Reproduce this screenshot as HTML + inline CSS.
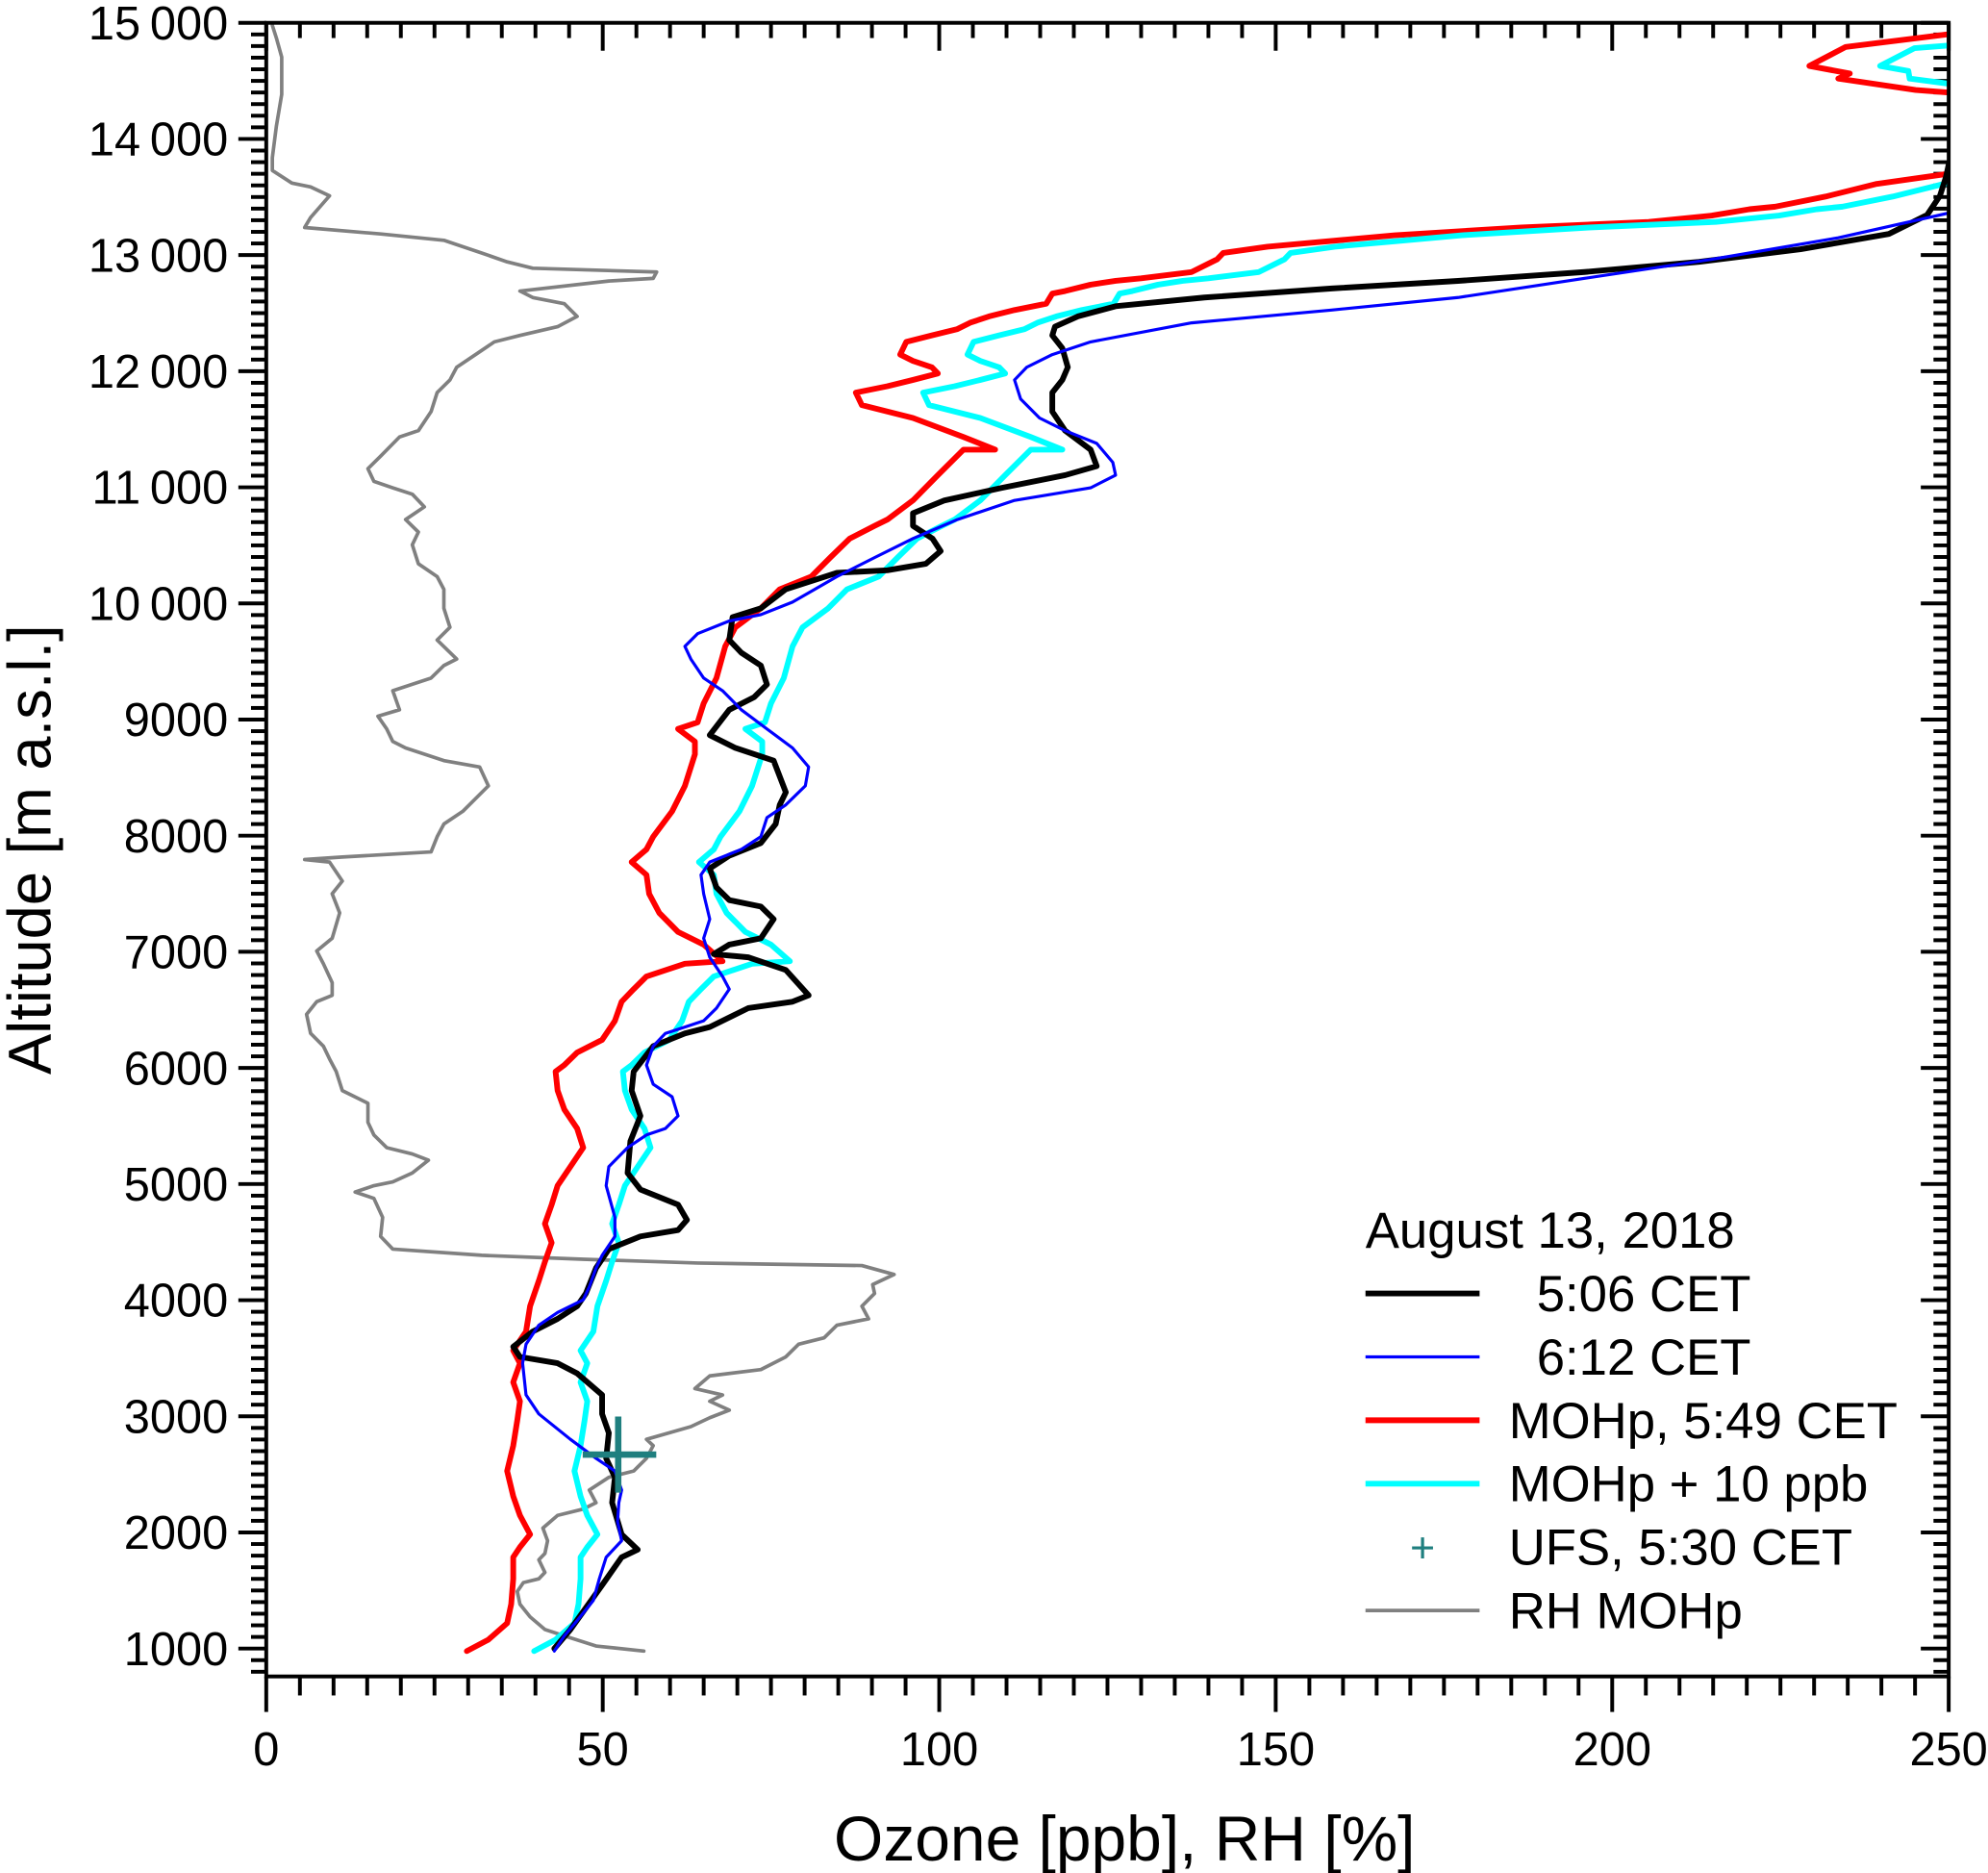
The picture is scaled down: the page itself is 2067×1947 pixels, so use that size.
<!DOCTYPE html>
<html><head><meta charset="utf-8"><style>
html,body{margin:0;padding:0;background:#fff}
svg{display:block}
text{font-family:"Liberation Sans",Arial,sans-serif;fill:#000}
</style></head><body>
<svg id="chart" width="2067" height="1947" viewBox="0 0 1568 1477" preserveAspectRatio="none" xmlns="http://www.w3.org/2000/svg">
<defs><clipPath id="plotClip"><rect x="210" y="18" width="1327" height="1304"/></clipPath></defs>
<g id="axes"></g>
<g id="series" clip-path="url(#plotClip)"></g>
<rect x="210" y="18" width="1327" height="1304" fill="none" stroke="#000" stroke-width="3"/>
<text transform="translate(40,670) rotate(-90)" text-anchor="middle" font-size="48">Altitude [m a.s.l.]</text>
<text x="887" y="1467" text-anchor="middle" font-size="50">Ozone [ppb], RH [%]</text>
<g>
<text x="1077" y="984" font-size="40">August 13, 2018</text>
<line x1="1077" y1="1020" x2="1167" y2="1020" stroke="#000" stroke-width="4.5"/>
<text x="1212" y="1034" font-size="40">5:06 CET</text>
<line x1="1077" y1="1070" x2="1167" y2="1070" stroke="#0000ff" stroke-width="2.4"/>
<text x="1212" y="1084" font-size="40">6:12 CET</text>
<line x1="1077" y1="1120" x2="1167" y2="1120" stroke="#ff0000" stroke-width="4.5"/>
<text x="1190" y="1134" font-size="40">MOHp, 5:49 CET</text>
<line x1="1077" y1="1170" x2="1167" y2="1170" stroke="#00ffff" stroke-width="4.5"/>
<text x="1190" y="1184" font-size="40">MOHp + 10 ppb</text>
<text x="1122" y="1232" font-size="34" text-anchor="middle" style="fill:#1f7f7f">+</text>
<text x="1190" y="1234" font-size="40">UFS, 5:30 CET</text>
<line x1="1077" y1="1270" x2="1167" y2="1270" stroke="#808080" stroke-width="2.8"/>
<text x="1190" y="1284" font-size="40">RH MOHp</text>
</g>
</svg>
<script>
const xTicks=[0,50,100,150,200,250];
const yTicks=[1000,2000,3000,4000,5000,6000,7000,8000,9000,10000,11000,12000,13000,14000,15000];
const yTickLabels=["1000","2000","3000","4000","5000","6000","7000","8000","9000","10\u2009000","11\u2009000","12\u2009000","13\u2009000","14\u2009000","15\u2009000"];
const blackOz=[42.8,45.2,49.9,52.8,55.2,52.8,51.4,51.8,50.5,50.9,49.9,49.9,46.2,43.3,37.7,36.7,39.6,43.3,46.2,47.5,49.0,50.9,55.6,61.2,62.5,61.2,55.6,53.7,54.1,55.6,54.3,54.6,57.5,62.2,65.9,71.6,78.2,80.6,77.2,71.6,66.5,68.8,73.5,75.4,73.5,68.8,66.9,65.9,68.8,73.5,75.7,76.3,77.2,75.4,69.7,65.9,68.8,72.5,74.4,73.5,70.6,68.8,69.3,73.5,77.2,84.8,92.3,98.0,100.2,99.0,96.1,96.1,100.8,109.3,118.7,123.4,122.5,118.7,116.8,116.8,118.3,119.1,118.3,116.8,117.2,120.6,126.2,139.4,158.3,177.1,195.9,212.9,228.0,241.1,246.8,248.7,249.6,250];
const blackAlt=[1000,1164,1546,1786,1852,1983,2256,2474,2638,2857,3020,3184,3370,3457,3512,3599,3730,3839,3949,4058,4276,4440,4549,4604,4691,4822,4953,5095,5368,5587,5805,5969,6187,6297,6352,6515,6570,6625,6843,6953,6980,7062,7117,7281,7390,7445,7554,7718,7828,7937,8101,8265,8374,8647,8756,8866,9084,9193,9302,9466,9576,9685,9882,9958,10122,10264,10286,10341,10450,10559,10668,10777,10887,10996,11105,11182,11324,11488,11652,11816,11925,12034,12198,12308,12384,12472,12559,12635,12712,12778,12854,12942,13051,13182,13346,13510,13674,13780];
const blueOz=[42.8,44.3,46.2,48.6,49.5,50.5,52.8,52.2,52.4,52.8,51.8,49.0,45.2,40.5,38.6,38.1,38.6,40.5,43.3,47.1,48.0,49.0,49.9,51.8,51.8,50.5,50.9,53.7,56.5,59.3,61.2,60.3,57.5,56.5,57.5,59.3,62.2,65.0,66.9,68.8,67.8,65.9,65.0,65.9,65.0,64.6,65.9,70.6,73.5,74.4,77.2,80.1,80.6,78.2,74.4,70.6,67.8,65.0,63.1,62.2,64.1,68.8,73.5,78.2,84.8,90.4,96.1,102.7,111.2,122.5,126.2,125.8,123.4,118.7,114.9,112.1,111.2,113.0,116.8,122.5,137.5,158.3,177.1,195.9,214.8,233.6,250.0];
const blueAlt=[978,1109,1240,1415,1601,1786,1928,2092,2256,2365,2529,2638,2802,3020,3184,3457,3621,3785,3894,4003,4113,4276,4385,4549,4713,4986,5150,5314,5423,5478,5587,5751,5860,6024,6187,6297,6352,6406,6515,6679,6788,6953,7117,7281,7500,7663,7773,7882,7991,8155,8265,8429,8592,8756,8920,9084,9248,9357,9521,9630,9740,9849,9903,10012,10231,10395,10559,10723,10887,10996,11105,11215,11379,11488,11597,11761,11925,12034,12143,12252,12416,12526,12635,12799,12963,13149,13362];
const redOz=[29.8,33.0,35.8,36.4,36.7,36.7,37.7,39.2,37.7,36.7,35.8,36.7,37.3,37.7,36.7,37.7,36.7,38.6,39.2,40.5,41.4,42.4,41.4,42.4,43.3,45.2,47.1,46.2,44.3,43.3,43.0,44.3,46.2,49.9,51.8,52.8,54.6,56.5,62.2,67.8,65.0,61.2,58.4,56.9,56.5,54.3,56.5,57.5,60.3,62.2,63.7,63.7,61.2,64.1,65.0,66.9,68.2,69.7,73.5,76.3,81.0,83.8,86.7,90.4,92.3,96.1,99.8,103.6,108.3,103.6,96.1,88.5,87.6,92.3,96.1,99.8,98.9,96.1,94.2,95.1,98.9,102.7,104.6,107.4,111.2,115.9,116.8,118.7,122.5,126.2,130.0,137.5,141.3,142.2,148.8,167.7,186.5,205.4,214.8,220.4,224.2,231.7,239.3,250];
const redAlt=[978,1076,1218,1382,1601,1786,1874,1983,2147,2311,2529,2747,2966,3130,3293,3457,3566,3730,3949,4167,4331,4495,4658,4822,4986,5150,5314,5478,5642,5805,5969,6024,6133,6242,6406,6570,6679,6788,6897,6919,7062,7171,7335,7500,7663,7773,7882,7991,8210,8429,8701,8810,8920,8975,9139,9357,9630,9794,9958,10122,10231,10395,10559,10668,10723,10887,11105,11324,11324,11433,11597,11707,11816,11870,11925,11980,12034,12089,12143,12252,12308,12363,12417,12472,12526,12581,12668,12690,12745,12778,12799,12854,12963,13018,13073,13171,13237,13285,13340,13395,13417,13504,13613,13700];
const redTopOz=[250,234.7,229.3,235.3,233.6,245.1,250];
const redTopAlt=[14902,14793,14629,14563,14519,14421,14399];
const cyanOz=[39.8,43.0,45.8,46.4,46.7,46.7,47.7,49.2,47.7,46.7,45.8,46.7,47.3,47.7,46.7,47.7,46.7,48.6,49.2,50.5,51.4,52.4,51.4,52.4,53.3,55.2,57.1,56.2,54.3,53.3,53.0,54.3,56.2,59.9,61.8,62.8,64.6,66.5,72.2,77.8,75.0,71.2,68.4,66.9,66.5,64.3,66.5,67.5,70.3,72.2,73.7,73.7,71.2,74.1,75.0,76.9,78.2,79.7,83.5,86.3,91.0,93.8,96.7,100.4,102.3,106.1,109.8,113.6,118.3,113.6,106.1,98.5,97.6,102.3,106.1,109.8,108.9,106.1,104.2,105.1,108.9,112.7,114.6,117.4,121.2,125.9,126.8,128.7,132.5,136.2,140.0,147.5,151.3,152.2,158.8,177.7,196.5,215.4,224.8,230.4,234.2,241.7,249.3,260];
const cyanAlt=redAlt.slice();
const cyanTopOz=[250,244.9,239.8,244.0,244.2,250];
const cyanTopAlt=[14804,14782,14629,14585,14519,14476];
const rhVal=[56.1,49.0,44.3,41.4,39.2,37.7,37.3,38.2,40.5,41.4,40.5,41.4,41.8,41.1,43.3,47.1,49.0,48.0,50.9,54.6,56.5,57.5,56.5,63.1,65.9,68.8,65.9,67.8,63.7,65.9,73.5,77.2,79.1,82.9,84.8,89.5,88.5,90.4,90.1,93.3,88.5,64.1,47.1,32.0,18.8,17.0,17.3,16.0,13.2,16.0,18.8,21.7,24.1,21.7,17.9,16.0,15.1,15.1,11.3,10.4,9.4,8.5,6.6,6.0,7.5,9.8,9.8,8.5,7.5,9.8,10.9,9.8,11.3,9.4,5.7,11.3,24.5,25.4,26.4,29.2,33.0,31.7,26.4,20.7,18.8,17.9,16.6,19.8,18.8,24.5,26.4,28.3,25.4,27.3,26.4,26.4,25.4,22.6,21.7,22.6,20.7,23.5,21.7,18.8,16.0,15.1,17.0,19.8,22.6,24.5,25.4,27.3,28.3,31.1,33.9,37.7,43.3,46.2,44.3,39.6,37.7,50.9,57.5,58.0,39.6,35.8,32.0,26.4,17.0,5.7,6.6,9.4,6.6,3.8,0.9,0.9,1.5,2.3,2.3,1.5,0.9];
const rhAlt=[978,1022,1109,1164,1273,1382,1491,1568,1601,1655,1764,1819,1928,2037,2147,2201,2256,2365,2474,2529,2638,2747,2802,2911,2988,3053,3130,3184,3239,3348,3403,3512,3621,3676,3785,3839,3949,4058,4134,4222,4298,4320,4353,4386,4440,4549,4713,4877,4931,4986,5019,5095,5205,5259,5314,5423,5532,5696,5805,5969,6078,6187,6297,6461,6570,6625,6734,6897,7007,7117,7335,7500,7609,7773,7795,7817,7860,7991,8101,8210,8429,8592,8647,8756,8811,8920,9029,9084,9248,9357,9466,9521,9685,9794,9958,10122,10231,10341,10505,10614,10723,10832,10941,10996,11051,11160,11269,11433,11488,11652,11816,11925,12034,12143,12252,12308,12384,12472,12581,12635,12690,12777,12799,12854,12887,12942,13018,13127,13182,13237,13324,13510,13587,13620,13729,13838,14111,14384,14705,14869,14978];
const ufsOz=[52.3];
const ufsAlt=[2670];

const NS="http://www.w3.org/2000/svg";
const X0=210,X1=1537,Y15=18,Y1=1300;
function xs(v){return X0+(v-0)/(250-0)*(X1-X0);}
function ys(a){return Y1-(a-1000)/(15000-1000)*(Y1-Y15);}
const axes=document.getElementById('axes');
const series=document.getElementById('series');
function mk(tag,attrs,parent){const e=document.createElementNS(NS,tag);for(const k in attrs)e.setAttribute(k,attrs[k]);parent.appendChild(e);return e;}

for(let v=0;v<=250;v+=5){
  const major=v%50===0;
  const x=xs(v);
  const b=mk('line',{x1:x,y1:1322,x2:x,y2:1322+(major?28:15),stroke:'#000','stroke-width':3},axes);
  
  
  const t=mk('line',{x1:x,y1:18,x2:x,y2:18+(major?22:12),stroke:'#000','stroke-width':3},axes);
  
  
}
xTicks.forEach(v=>{
  const t=mk('text',{x:xs(v),y:1392,'text-anchor':'middle','font-size':37},axes);
  t.textContent=String(v);
  
  
});
for(let a=800;a<=15000;a+=100){
  const major=a%1000===0;
  const y=ys(a);
  if(y>1322)continue;
  const l=mk('line',{x1:210,y1:y,x2:210-(major?22:12),y2:y,stroke:'#000','stroke-width':3},axes);
  
  
  const r=mk('line',{x1:1537,y1:y,x2:1537-(major?22:12),y2:y,stroke:'#000','stroke-width':3},axes);
  
  
}
yTicks.forEach((a,i)=>{
  const t=mk('text',{x:180,y:ys(a)+13,'text-anchor':'end','font-size':37},axes);
  t.textContent=yTickLabels[i];
  
  
});
function line(oz,alt,color,w,name){
  const d=oz.map((v,i)=>(i?'L':'M')+xs(v).toFixed(1)+','+ys(alt[i]).toFixed(1)).join(' ');
  const p=mk('path',{d:d,fill:'none',stroke:color,'stroke-width':w,'stroke-linejoin':'round','stroke-linecap':'round'},series);
  
  
}
line(rhVal,rhAlt,'#808080',2.8,'rh-mohp-line');
line(redOz,redAlt,'#ff0000',4.5,'mohp-549-line');
line(redTopOz,redTopAlt,'#ff0000',4.5,'mohp-549-top-line');
line(cyanOz,cyanAlt,'#00ffff',4.5,'mohp-plus10-line');
line(cyanTopOz,cyanTopAlt,'#00ffff',4.5,'mohp-plus10-top-line');
line(blackOz,blackAlt,'#000000',4.5,'flight-506-line');
line(blueOz,blueAlt,'#0000ff',2.4,'flight-612-line');
ufsOz.forEach((v,i)=>{
  const x=xs(v),y=ys(ufsAlt[i]);
  const h=mk('line',{x1:x-28,y1:y,x2:x+30,y2:y,stroke:'#1f7f7f','stroke-width':5},series);
  
  
  const vv=mk('line',{x1:x,y1:y-30,x2:x,y2:y+30,stroke:'#1f7f7f','stroke-width':5},series);
  
  
});
</script>
</body></html>
